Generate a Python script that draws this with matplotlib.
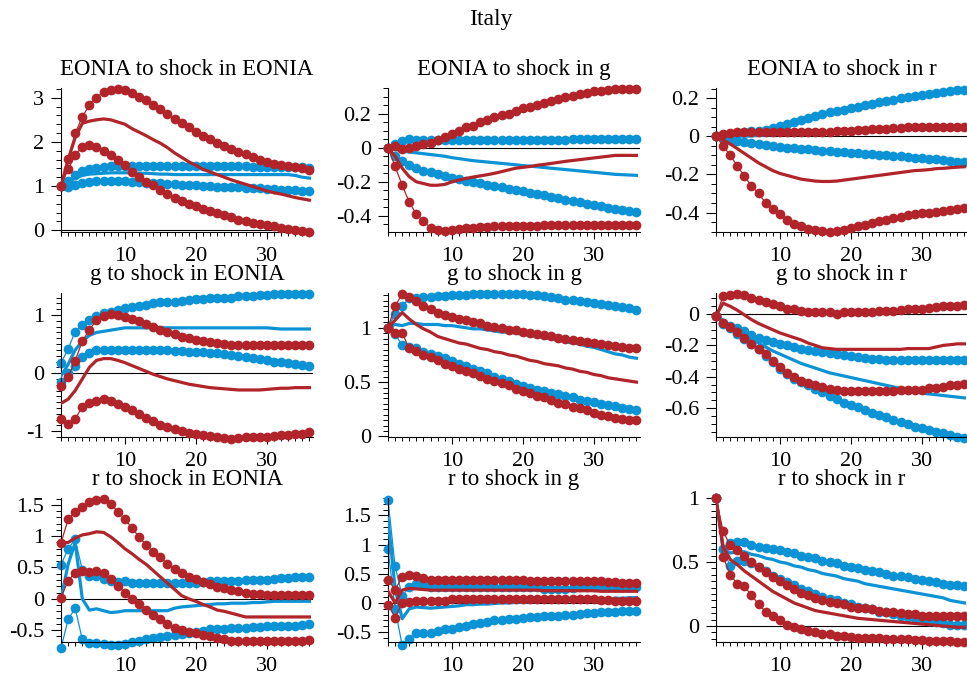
import numpy as np
import matplotlib.pyplot as plt
from matplotlib.ticker import MultipleLocator, AutoMinorLocator, FuncFormatter

plt.rcParams['font.family'] = ['Liberation Serif', 'DejaVu Serif']
plt.rcParams['axes.unicode_minus'] = False

RED = '#B0242A'
BLUE = '#0B93D6'

periods = np.arange(1, 37)

# EONIA to shock in EONIA
ee_red_hi = [1.0, 1.62, 2.19, 2.57, 2.83, 3.0, 3.14, 3.17, 3.19, 3.17, 3.1, 3.02, 2.95, 2.83, 2.74, 2.63, 2.51, 2.42,
             2.33, 2.23, 2.13, 2.06, 1.98, 1.9, 1.84, 1.78, 1.72, 1.66, 1.6, 1.55, 1.51, 1.47, 1.45, 1.44, 1.4, 1.36]
ee_red_lo = [1.0, 1.38, 1.7, 1.89, 1.93, 1.89, 1.79, 1.7, 1.59, 1.47, 1.32, 1.21, 1.1, 1.02, 0.91, 0.82, 0.74, 0.67,
             0.6, 0.54, 0.49, 0.43, 0.38, 0.34, 0.29, 0.24, 0.2, 0.17, 0.13, 0.11, 0.09, 0.06, 0.02, 0.0, -0.02, -0.05]
ee_red_mid = [1.0, 1.6, 2.1, 2.42, 2.47, 2.5, 2.52, 2.5, 2.45, 2.4, 2.3, 2.22, 2.14, 2.05, 1.97, 1.87, 1.75, 1.65,
              1.55, 1.47, 1.38, 1.32, 1.26, 1.2, 1.14, 1.09, 1.04, 0.99, 0.94, 0.89, 0.85, 0.82, 0.78, 0.74, 0.71, 0.68]
ee_blue_hi = [1.0, 1.12, 1.25, 1.33, 1.38, 1.42, 1.44, 1.45, 1.45, 1.46, 1.46, 1.46, 1.46, 1.46, 1.46, 1.46, 1.45, 1.45,
              1.45, 1.45, 1.45, 1.45, 1.45, 1.45, 1.45, 1.45, 1.45, 1.44, 1.44, 1.44, 1.44, 1.43, 1.43, 1.43, 1.43, 1.42]
ee_blue_lo = [1.0, 0.98, 1.02, 1.08, 1.1, 1.11, 1.11, 1.11, 1.11, 1.11, 1.1, 1.09, 1.08, 1.07, 1.06, 1.05, 1.04, 1.03,
              1.03, 1.02, 1.01, 1.0, 0.99, 0.99, 0.98, 0.97, 0.96, 0.95, 0.95, 0.94, 0.93, 0.92, 0.91, 0.9, 0.89, 0.88]
ee_blue_mid = [1.0, 1.1, 1.18, 1.24, 1.27, 1.28, 1.29, 1.3, 1.3, 1.3, 1.3, 1.29, 1.29, 1.28, 1.27, 1.27, 1.26, 1.26,
               1.26, 1.26, 1.26, 1.26, 1.26, 1.26, 1.26, 1.26, 1.26, 1.26, 1.26, 1.26, 1.26, 1.26, 1.26, 1.24, 1.2, 1.18]

# EONIA to shock in g
eg_red_hi = [0.0, 0.01, -0.005, 0.0, 0.01, 0.02, 0.03, 0.045, 0.06, 0.08, 0.1, 0.12, 0.13, 0.15, 0.165, 0.18, 0.19, 0.2,
             0.215, 0.23, 0.24, 0.25, 0.265, 0.275, 0.285, 0.295, 0.305, 0.315, 0.32, 0.33, 0.335, 0.34, 0.345, 0.345,
             0.345, 0.345]
eg_red_lo = [0.0, -0.11, -0.22, -0.32, -0.39, -0.43, -0.47, -0.48, -0.49, -0.48, -0.475, -0.47, -0.47, -0.465, -0.465,
             -0.46, -0.46, -0.46, -0.46, -0.46, -0.46, -0.46, -0.455, -0.455, -0.455, -0.455, -0.455, -0.455, -0.455,
             -0.455, -0.455, -0.455, -0.455, -0.455, -0.455, -0.455]
eg_red_mid = [0.0, -0.05, -0.12, -0.17, -0.2, -0.21, -0.22, -0.22, -0.215, -0.2, -0.19, -0.18, -0.172, -0.165, -0.158,
              -0.15, -0.14, -0.13, -0.12, -0.115, -0.11, -0.103, -0.098, -0.092, -0.086, -0.08, -0.075, -0.07, -0.065,
              -0.06, -0.055, -0.05, -0.045, -0.045, -0.045, -0.045]
eg_blue_hi = [0.0, 0.02, 0.04, 0.05, 0.045, 0.045, 0.045, 0.045, 0.045, 0.045, 0.045, 0.045, 0.045, 0.045, 0.045, 0.045,
              0.045, 0.045, 0.045, 0.045, 0.045, 0.045, 0.045, 0.045, 0.045, 0.045, 0.05, 0.05, 0.05, 0.05, 0.05, 0.05,
              0.05, 0.05, 0.05, 0.05]
eg_blue_lo = [0.0, -0.05, -0.08, -0.1, -0.12, -0.135, -0.145, -0.155, -0.165, -0.175, -0.185, -0.193, -0.2, -0.208,
              -0.216, -0.224, -0.232, -0.24, -0.248, -0.256, -0.264, -0.272, -0.28, -0.288, -0.296, -0.304, -0.312,
              -0.32, -0.328, -0.336, -0.344, -0.352, -0.36, -0.366, -0.372, -0.378]
eg_blue_mid = [0.0, -0.01, -0.02, -0.025, -0.03, -0.035, -0.04, -0.045, -0.05, -0.058, -0.064, -0.07, -0.076, -0.08,
               -0.084, -0.088, -0.092, -0.096, -0.1, -0.105, -0.108, -0.112, -0.116, -0.12, -0.124, -0.128, -0.132,
               -0.136, -0.14, -0.144, -0.148, -0.152, -0.156, -0.158, -0.16, -0.162]

# EONIA to shock in r
er_red_hi = [0.0, 0.01, 0.015, 0.02, 0.02, 0.02, 0.02, 0.02, 0.02, 0.02, 0.02, 0.02, 0.02, 0.02, 0.02, 0.022, 0.024,
             0.026, 0.028, 0.03, 0.032, 0.034, 0.036, 0.038, 0.04, 0.042, 0.044, 0.046, 0.048, 0.05, 0.05, 0.05, 0.05,
             0.05, 0.05, 0.05]
er_red_lo = [0.0, -0.05, -0.1, -0.155, -0.21, -0.26, -0.3, -0.35, -0.38, -0.41, -0.44, -0.46, -0.47, -0.485, -0.49,
             -0.495, -0.5, -0.495, -0.49, -0.48, -0.47, -0.465, -0.455, -0.445, -0.44, -0.43, -0.425, -0.415, -0.41,
             -0.405, -0.4, -0.395, -0.39, -0.385, -0.38, -0.378]
er_red_mid = [0.0, -0.02, -0.04, -0.065, -0.09, -0.115, -0.14, -0.16, -0.18, -0.195, -0.205, -0.215, -0.225, -0.23,
              -0.235, -0.237, -0.237, -0.235, -0.23, -0.225, -0.22, -0.215, -0.21, -0.205, -0.2, -0.195, -0.19, -0.185,
              -0.18, -0.178, -0.175, -0.17, -0.168, -0.165, -0.162, -0.16]
er_blue_hi = [0.0, 0.005, 0.01, 0.015, 0.02, 0.025, 0.03, 0.035, 0.045, 0.055, 0.065, 0.075, 0.085, 0.095, 0.105, 0.115,
              0.125, 0.13, 0.14, 0.15, 0.155, 0.165, 0.17, 0.18, 0.185, 0.19, 0.2, 0.205, 0.21, 0.215, 0.22, 0.225,
              0.23, 0.235, 0.24, 0.245]
er_blue_lo = [0.0, -0.01, -0.02, -0.025, -0.03, -0.035, -0.04, -0.045, -0.05, -0.055, -0.06, -0.063, -0.066, -0.069,
              -0.072, -0.075, -0.078, -0.081, -0.084, -0.086, -0.089, -0.092, -0.095, -0.098, -0.1, -0.103, -0.106,
              -0.109, -0.112, -0.115, -0.118, -0.121, -0.125, -0.129, -0.133, -0.137]
er_blue_mid = [0.0, 0.0, 0.0, 0.0, 0.0, 0.002, 0.004, 0.006, 0.008, 0.01, 0.012, 0.014, 0.016, 0.018, 0.02, 0.022,
               0.024, 0.026, 0.028, 0.03, 0.032, 0.034, 0.036, 0.038, 0.04, 0.042, 0.043, 0.044, 0.045, 0.046, 0.047,
               0.048, 0.048, 0.048, 0.048, 0.048]

# g to shock in EONIA
ge_red_hi = [-0.23, -0.06, 0.21, 0.55, 0.75, 0.91, 0.99, 1.01, 1.0, 0.97, 0.93, 0.89, 0.84, 0.79, 0.74, 0.71, 0.67, 0.63,
             0.6, 0.57, 0.55, 0.53, 0.52, 0.5, 0.49, 0.49, 0.48, 0.48, 0.48, 0.48, 0.48, 0.48, 0.48, 0.48, 0.48, 0.48]
ge_red_lo = [-0.79, -0.88, -0.79, -0.58, -0.52, -0.48, -0.45, -0.48, -0.54, -0.58, -0.64, -0.7, -0.77, -0.83, -0.89,
             -0.93, -0.97, -1.0, -1.03, -1.05, -1.07, -1.09, -1.1, -1.11, -1.13, -1.12, -1.1, -1.1, -1.1, -1.1, -1.08,
             -1.07, -1.06, -1.05, -1.04, -1.01]
ge_red_mid = [-0.52, -0.45, -0.3, -0.1, 0.1, 0.22, 0.25, 0.25, 0.22, 0.18, 0.13, 0.08, 0.03, -0.02, -0.06, -0.1, -0.13,
              -0.16, -0.19, -0.21, -0.23, -0.25, -0.26, -0.27, -0.28, -0.29, -0.29, -0.29, -0.29, -0.28, -0.27, -0.26,
              -0.26, -0.25, -0.25, -0.25]
ge_blue_hi = [0.17, 0.42, 0.71, 0.83, 0.91, 0.99, 1.03, 1.06, 1.08, 1.12, 1.14, 1.16, 1.18, 1.2, 1.22, 1.23, 1.23, 1.25,
              1.26, 1.27, 1.28, 1.29, 1.29, 1.3, 1.3, 1.32, 1.32, 1.33, 1.34, 1.35, 1.36, 1.36, 1.36, 1.36, 1.36, 1.36]
ge_blue_lo = [-0.16, 0.0, 0.12, 0.27, 0.35, 0.39, 0.4, 0.4, 0.4, 0.4, 0.4, 0.4, 0.4, 0.4, 0.4, 0.39, 0.38, 0.38, 0.37,
              0.37, 0.36, 0.35, 0.34, 0.33, 0.31, 0.3, 0.28, 0.26, 0.24, 0.22, 0.2, 0.19, 0.17, 0.16, 0.14, 0.13]
ge_blue_mid = [-0.05, 0.15, 0.4, 0.55, 0.65, 0.7, 0.72, 0.74, 0.76, 0.78, 0.78, 0.78, 0.78, 0.78, 0.78, 0.78, 0.78,
               0.78, 0.78, 0.78, 0.78, 0.78, 0.78, 0.78, 0.78, 0.78, 0.78, 0.78, 0.78, 0.78, 0.77, 0.76, 0.76, 0.76,
               0.76, 0.76]

# g to shock in g
gg_red_hi = [1.0, 1.2, 1.31, 1.28, 1.25, 1.2, 1.17, 1.14, 1.12, 1.1, 1.08, 1.07, 1.05, 1.04, 1.02, 1.01, 1.0, 0.98,
             0.98, 0.96, 0.95, 0.94, 0.93, 0.92, 0.91, 0.9, 0.89, 0.88, 0.87, 0.86, 0.85, 0.84, 0.83, 0.82, 0.81, 0.81]
gg_red_lo = [1.0, 0.95, 0.95, 0.81, 0.79, 0.75, 0.73, 0.7, 0.67, 0.65, 0.62, 0.6, 0.58, 0.56, 0.53, 0.51, 0.49, 0.47,
             0.44, 0.42, 0.4, 0.37, 0.36, 0.34, 0.31, 0.3, 0.27, 0.26, 0.24, 0.22, 0.2, 0.19, 0.17, 0.16, 0.15, 0.15]
gg_red_mid = [1.0, 1.07, 1.14, 1.08, 1.03, 0.99, 0.96, 0.92, 0.9, 0.88, 0.86, 0.85, 0.83, 0.81, 0.8, 0.78, 0.77, 0.75,
              0.74, 0.72, 0.7, 0.69, 0.67, 0.66, 0.65, 0.63, 0.62, 0.6, 0.59, 0.57, 0.56, 0.54, 0.53, 0.52, 0.51, 0.5]
gg_blue_hi = [1.0, 1.13, 1.2, 1.27, 1.27, 1.28, 1.28, 1.29, 1.29, 1.3, 1.3, 1.3, 1.31, 1.31, 1.31, 1.31, 1.31, 1.31,
              1.31, 1.31, 1.3, 1.3, 1.29, 1.28, 1.27, 1.26, 1.26, 1.25, 1.24, 1.23, 1.22, 1.21, 1.2, 1.19, 1.18, 1.16]
gg_blue_lo = [1.0, 0.94, 0.84, 0.82, 0.81, 0.78, 0.76, 0.74, 0.72, 0.69, 0.67, 0.65, 0.62, 0.6, 0.58, 0.55, 0.53, 0.51,
              0.48, 0.46, 0.45, 0.43, 0.42, 0.4, 0.39, 0.37, 0.36, 0.34, 0.33, 0.32, 0.3, 0.29, 0.28, 0.26, 0.25, 0.24]
gg_blue_mid = [1.0, 1.03, 1.02, 1.04, 1.04, 1.03, 1.03, 1.03, 1.02, 1.02, 1.01, 1.0, 0.99, 0.99, 0.98, 0.97, 0.96, 0.96,
               0.95, 0.94, 0.93, 0.92, 0.91, 0.9, 0.89, 0.87, 0.86, 0.85, 0.83, 0.82, 0.8, 0.78, 0.76, 0.75, 0.73, 0.72]

# g to shock in r
gr_red_hi = [-0.01, 0.115, 0.125, 0.13, 0.12, 0.1, 0.09, 0.075, 0.065, 0.05, 0.035, 0.03, 0.02, 0.015, 0.015, 0.015,
             0.015, 0.0, 0.015, 0.015, 0.015, 0.015, 0.015, 0.02, 0.02, 0.02, 0.025, 0.03, 0.03, 0.035, 0.04, 0.045,
             0.05, 0.05, 0.055, 0.06]
gr_red_lo = [-0.01, -0.055, -0.08, -0.115, -0.155, -0.19, -0.22, -0.255, -0.3, -0.34, -0.375, -0.4, -0.425, -0.44,
             -0.45, -0.465, -0.48, -0.485, -0.49, -0.49, -0.49, -0.49, -0.49, -0.49, -0.49, -0.49, -0.485, -0.485,
             -0.485, -0.485, -0.475, -0.47, -0.465, -0.455, -0.45, -0.445]
gr_red_mid = [-0.01, 0.07, 0.05, 0.025, -0.005, -0.035, -0.06, -0.08, -0.1, -0.12, -0.135, -0.15, -0.165, -0.185, -0.2,
              -0.215, -0.22, -0.225, -0.225, -0.225, -0.225, -0.225, -0.225, -0.225, -0.225, -0.225, -0.225, -0.22,
              -0.22, -0.22, -0.22, -0.21, -0.2, -0.195, -0.19, -0.19]
gr_blue_hi = [-0.01, -0.065, -0.075, -0.09, -0.11, -0.135, -0.15, -0.165, -0.18, -0.19, -0.2, -0.21, -0.22, -0.227,
              -0.235, -0.24, -0.25, -0.257, -0.264, -0.27, -0.275, -0.28, -0.285, -0.285, -0.29, -0.29, -0.29, -0.29,
              -0.29, -0.29, -0.29, -0.29, -0.29, -0.29, -0.29, -0.29]
gr_blue_lo = [-0.01, -0.055, -0.09, -0.13, -0.16, -0.19, -0.225, -0.265, -0.305, -0.35, -0.38, -0.415, -0.435, -0.455,
              -0.48, -0.5, -0.52, -0.54, -0.565, -0.58, -0.595, -0.61, -0.63, -0.645, -0.66, -0.675, -0.69, -0.7,
              -0.72, -0.73, -0.74, -0.75, -0.76, -0.775, -0.785, -0.79]
gr_blue_mid = [-0.01, -0.04, -0.07, -0.1, -0.13, -0.16, -0.185, -0.21, -0.235, -0.255, -0.275, -0.295, -0.315, -0.33,
               -0.345, -0.36, -0.375, -0.385, -0.395, -0.405, -0.415, -0.425, -0.435, -0.445, -0.455, -0.465, -0.475,
               -0.485, -0.495, -0.505, -0.51, -0.515, -0.52, -0.525, -0.53, -0.535]

# r to shock in EONIA
re_red_hi = [0.89, 1.27, 1.39, 1.46, 1.54, 1.58, 1.6, 1.52, 1.39, 1.27, 1.13, 0.99, 0.86, 0.75, 0.66, 0.56, 0.47, 0.41,
             0.35, 0.31, 0.27, 0.23, 0.19, 0.17, 0.14, 0.12, 0.1, 0.08, 0.07, 0.06, 0.055, 0.055, 0.055, 0.055, 0.055,
             0.055]
re_red_lo = [0.02, 0.29, 0.41, 0.45, 0.43, 0.45, 0.42, 0.32, 0.21, 0.1, 0.0, -0.09, -0.18, -0.26, -0.33, -0.4, -0.46,
             -0.5, -0.53, -0.55, -0.58, -0.6, -0.62, -0.65, -0.67, -0.68, -0.68, -0.68, -0.68, -0.68, -0.68, -0.68,
             -0.68, -0.68, -0.67, -0.66]
re_red_mid = [0.89, 0.9, 0.97, 1.02, 1.04, 1.07, 1.06, 0.99, 0.9, 0.8, 0.72, 0.63, 0.55, 0.45, 0.35, 0.25, 0.15, 0.05,
              0.0, -0.04, -0.09, -0.13, -0.18, -0.2, -0.23, -0.26, -0.29, -0.29, -0.29, -0.29, -0.29, -0.29, -0.29,
              -0.29, -0.29, -0.29]
re_blue_hi = [0.54, 0.8, 0.95, 0.46, 0.36, 0.36, 0.32, 0.28, 0.27, 0.28, 0.26, 0.25, 0.25, 0.25, 0.25, 0.25, 0.25, 0.25,
              0.25, 0.26, 0.27, 0.28, 0.28, 0.28, 0.29, 0.29, 0.3, 0.3, 0.3, 0.3, 0.32, 0.33, 0.34, 0.35, 0.35, 0.35]
re_blue_lo = [-0.79, -0.33, -0.15, -0.65, -0.71, -0.71, -0.72, -0.74, -0.73, -0.72, -0.69, -0.67, -0.65, -0.62, -0.61,
              -0.59, -0.58, -0.57, -0.54, -0.53, -0.51, -0.49, -0.48, -0.48, -0.47, -0.46, -0.46, -0.45, -0.45, -0.44,
              -0.44, -0.44, -0.43, -0.43, -0.42, -0.4]
re_blue_mid = [0.0, 0.55, 0.9, 0.0, -0.18, -0.16, -0.19, -0.22, -0.21, -0.19, -0.19, -0.19, -0.19, -0.19, -0.19, -0.19,
               -0.15, -0.13, -0.12, -0.11, -0.1, -0.09, -0.08, -0.08, -0.07, -0.07, -0.07, -0.06, -0.06, -0.05, -0.04,
               -0.04, -0.04, -0.04, -0.04, -0.04]

# r to shock in g
rg_red_hi = [0.4, 0.23, 0.44, 0.48, 0.47, 0.42, 0.4, 0.4, 0.4, 0.4, 0.4, 0.4, 0.4, 0.4, 0.4, 0.4, 0.4, 0.4, 0.4, 0.4,
             0.38, 0.38, 0.38, 0.38, 0.38, 0.38, 0.38, 0.38, 0.38, 0.38, 0.37, 0.36, 0.36, 0.35, 0.34, 0.34]
rg_red_lo = [-0.03, -0.25, 0.0, 0.01, 0.03, 0.03, 0.03, 0.03, 0.03, 0.06, 0.06, 0.06, 0.06, 0.06, 0.06, 0.06, 0.06,
             0.06, 0.06, 0.06, 0.06, 0.06, 0.06, 0.06, 0.06, 0.06, 0.06, 0.06, 0.06, 0.06, 0.05, 0.05, 0.04, 0.04,
             0.03, 0.03]
rg_red_mid = [0.2, 0.0, 0.22, 0.25, 0.24, 0.23, 0.22, 0.22, 0.22, 0.22, 0.22, 0.22, 0.22, 0.22, 0.22, 0.22, 0.22, 0.22,
              0.22, 0.22, 0.22, 0.22, 0.21, 0.21, 0.21, 0.21, 0.21, 0.21, 0.21, 0.21, 0.2, 0.2, 0.2, 0.2, 0.2, 0.2]
rg_blue_hi = [1.77, 0.63, 0.12, 0.28, 0.32, 0.3, 0.28, 0.28, 0.28, 0.28, 0.28, 0.28, 0.28, 0.28, 0.28, 0.28, 0.28, 0.28,
              0.28, 0.28, 0.28, 0.28, 0.24, 0.24, 0.24, 0.24, 0.26, 0.27, 0.27, 0.27, 0.27, 0.27, 0.27, 0.27, 0.27, 0.28]
rg_blue_lo = [0.93, -0.1, -0.73, -0.61, -0.52, -0.51, -0.51, -0.48, -0.45, -0.44, -0.41, -0.39, -0.36, -0.34, -0.32,
              -0.3, -0.29, -0.27, -0.27, -0.26, -0.24, -0.24, -0.23, -0.23, -0.22, -0.2, -0.2, -0.19, -0.18, -0.17,
              -0.16, -0.16, -0.15, -0.14, -0.14, -0.13]
rg_blue_mid = [1.45, 0.25, -0.27, -0.1, -0.07, -0.08, -0.09, -0.08, -0.07, -0.06, -0.05, -0.03, -0.03, -0.02, -0.02,
               -0.01, 0.0, 0.0, 0.01, 0.01, 0.02, 0.02, 0.03, 0.03, 0.04, 0.04, 0.05, 0.05, 0.06, 0.06, 0.07, 0.07,
               0.08, 0.08, 0.09, 0.09]

# r to shock in r
rr_red_hi = [1.0, 0.74, 0.63, 0.59, 0.55, 0.5, 0.46, 0.42, 0.38, 0.35, 0.32, 0.29, 0.26, 0.24, 0.22, 0.2, 0.19, 0.18,
             0.17, 0.15, 0.14, 0.14, 0.13, 0.12, 0.11, 0.11, 0.1, 0.09, 0.09, 0.08, 0.08, 0.08, 0.08, 0.08, 0.08, 0.08]
rr_red_lo = [1.0, 0.54, 0.4, 0.33, 0.31, 0.24, 0.17, 0.11, 0.08, 0.045, 0.01, -0.005, -0.02, -0.04, -0.05, -0.06,
             -0.065, -0.075, -0.08, -0.085, -0.09, -0.09, -0.095, -0.095, -0.1, -0.1, -0.105, -0.105, -0.11, -0.11,
             -0.115, -0.115, -0.12, -0.12, -0.125, -0.125]
rr_red_mid = [1.0, 0.62, 0.52, 0.48, 0.43, 0.39, 0.35, 0.31, 0.27, 0.24, 0.21, 0.18, 0.16, 0.14, 0.12, 0.11, 0.1, 0.09,
              0.08, 0.07, 0.06, 0.055, 0.05, 0.045, 0.04, 0.035, 0.03, 0.025, 0.02, 0.015, 0.01, 0.005, 0.0, -0.005,
              -0.01, -0.01]
rr_blue_hi = [1.0, 0.6, 0.65, 0.66, 0.66, 0.63, 0.62, 0.61, 0.6, 0.59, 0.58, 0.57, 0.55, 0.54, 0.53, 0.51, 0.5, 0.49,
              0.47, 0.46, 0.45, 0.44, 0.43, 0.42, 0.41, 0.39, 0.39, 0.38, 0.37, 0.36, 0.35, 0.34, 0.33, 0.32, 0.32, 0.31]
rr_blue_lo = [1.0, 0.6, 0.47, 0.51, 0.51, 0.49, 0.46, 0.43, 0.39, 0.37, 0.34, 0.32, 0.29, 0.27, 0.25, 0.23, 0.21, 0.2,
              0.18, 0.17, 0.15, 0.14, 0.13, 0.11, 0.11, 0.09, 0.08, 0.07, 0.06, 0.05, 0.04, 0.03, 0.02, 0.01, 0.01,
              0.005]
rr_blue_mid = [1.0, 0.6, 0.57, 0.58, 0.58, 0.56, 0.55, 0.53, 0.52, 0.5, 0.49, 0.47, 0.46, 0.44, 0.43, 0.41, 0.4, 0.39,
               0.37, 0.36, 0.35, 0.33, 0.32, 0.31, 0.3, 0.29, 0.28, 0.27, 0.26, 0.25, 0.24, 0.23, 0.22, 0.2, 0.19, 0.18]

titles = ['EONIA to shock in EONIA', 'EONIA to shock in g', 'EONIA to shock in r',
          'g to shock in EONIA', 'g to shock in g', 'g to shock in r',
          'r to shock in EONIA', 'r to shock in g', 'r to shock in r']
y_limits = [(-0.04, 3.22), (-0.494, 0.35), (-0.502, 0.253),
            (-1.1, 1.38), (-0.005, 1.32), (-0.785, 0.135),
            (-0.69, 1.61), (-0.67, 1.8), (-0.125, 1.0)]
y_major = [1, 0.2, 0.2, 1, 0.5, 0.2, 0.5, 0.5, 0.5]
y_minor_n = [5, 4, 4, 10, 10, 4, 5, 5, 10]

panels = [
    (ee_red_hi, ee_red_lo, ee_red_mid, ee_blue_hi, ee_blue_lo, ee_blue_mid),
    (eg_red_hi, eg_red_lo, eg_red_mid, eg_blue_hi, eg_blue_lo, eg_blue_mid),
    (er_red_hi, er_red_lo, er_red_mid, er_blue_hi, er_blue_lo, er_blue_mid),
    (ge_red_hi, ge_red_lo, ge_red_mid, ge_blue_hi, ge_blue_lo, ge_blue_mid),
    (gg_red_hi, gg_red_lo, gg_red_mid, gg_blue_hi, gg_blue_lo, gg_blue_mid),
    (gr_red_hi, gr_red_lo, gr_red_mid, gr_blue_hi, gr_blue_lo, gr_blue_mid),
    (re_red_hi, re_red_lo, re_red_mid, re_blue_hi, re_blue_lo, re_blue_mid),
    (rg_red_hi, rg_red_lo, rg_red_mid, rg_blue_hi, rg_blue_lo, rg_blue_mid),
    (rr_red_hi, rr_red_lo, rr_red_mid, rr_blue_hi, rr_blue_lo, rr_blue_mid),
]


def fmt(v, pos):
    if abs(v) < 1e-9:
        return '0'
    return '%g' % round(v, 6)


W, H = 967, 674
fig = plt.figure(figsize=(W / 100, H / 100), dpi=100)
col_left = [61, 388, 716]
row_top = [88, 293, 498]
ax_w, ax_h = 252, 144

for k in range(9):
    i, j = divmod(k, 3)
    ax = fig.add_axes([col_left[j] / W, 1 - (row_top[i] + ax_h) / H, ax_w / W, ax_h / H])
    red_hi, red_lo, red_mid, blue_hi, blue_lo, blue_mid = panels[k]

    lo, hi = y_limits[k]
    if lo < -0.01:
        ax.axhline(0, color='black', lw=0.8, zorder=1)

    # bands drawn with dots, medians as plain thick lines; red on top of blue
    band = dict(lw=0.9, marker='o', ms=7, mew=0, clip_on=False)
    ax.plot(periods, blue_hi, color=BLUE, zorder=2, **band)
    ax.plot(periods, blue_lo, color=BLUE, zorder=2, **band)
    ax.plot(periods, blue_mid, color=BLUE, lw=2.3, zorder=3)
    ax.plot(periods, red_hi, color=RED, zorder=4, **band)
    ax.plot(periods, red_lo, color=RED, zorder=4, **band)
    ax.plot(periods, red_mid, color=RED, lw=2.3, zorder=5)

    ax.set_xlim(1, 36.5)
    ax.set_ylim(lo, hi)
    ax.set_title(titles[k], fontsize=16.5, pad=9.5)

    for s in ['top', 'right']:
        ax.spines[s].set_visible(False)
    for s in ['left', 'bottom']:
        ax.spines[s].set_linewidth(0.8)

    ax.xaxis.set_major_locator(MultipleLocator(10))
    ax.xaxis.set_minor_locator(MultipleLocator(1))
    ax.yaxis.set_major_locator(MultipleLocator(y_major[k]))
    ax.yaxis.set_minor_locator(AutoMinorLocator(y_minor_n[k]))
    ax.yaxis.set_major_formatter(FuncFormatter(fmt))
    ax.xaxis.set_major_formatter(FuncFormatter(fmt))
    ax.tick_params(axis='x', which='major', direction='out', length=5, width=0.8, pad=6, labelsize=16)
    ax.tick_params(axis='x', which='minor', direction='out', length=3, width=0.7)
    ax.tick_params(axis='y', which='major', direction='out', length=7, width=0.8, pad=5, labelsize=16)
    ax.tick_params(axis='y', which='minor', direction='out', length=3.5, width=0.7)

fig.text(491 / W, 1 - 20 / H, 'Italy', ha='center', va='center', fontsize=17)

fig.savefig('out.png', dpi=100)
